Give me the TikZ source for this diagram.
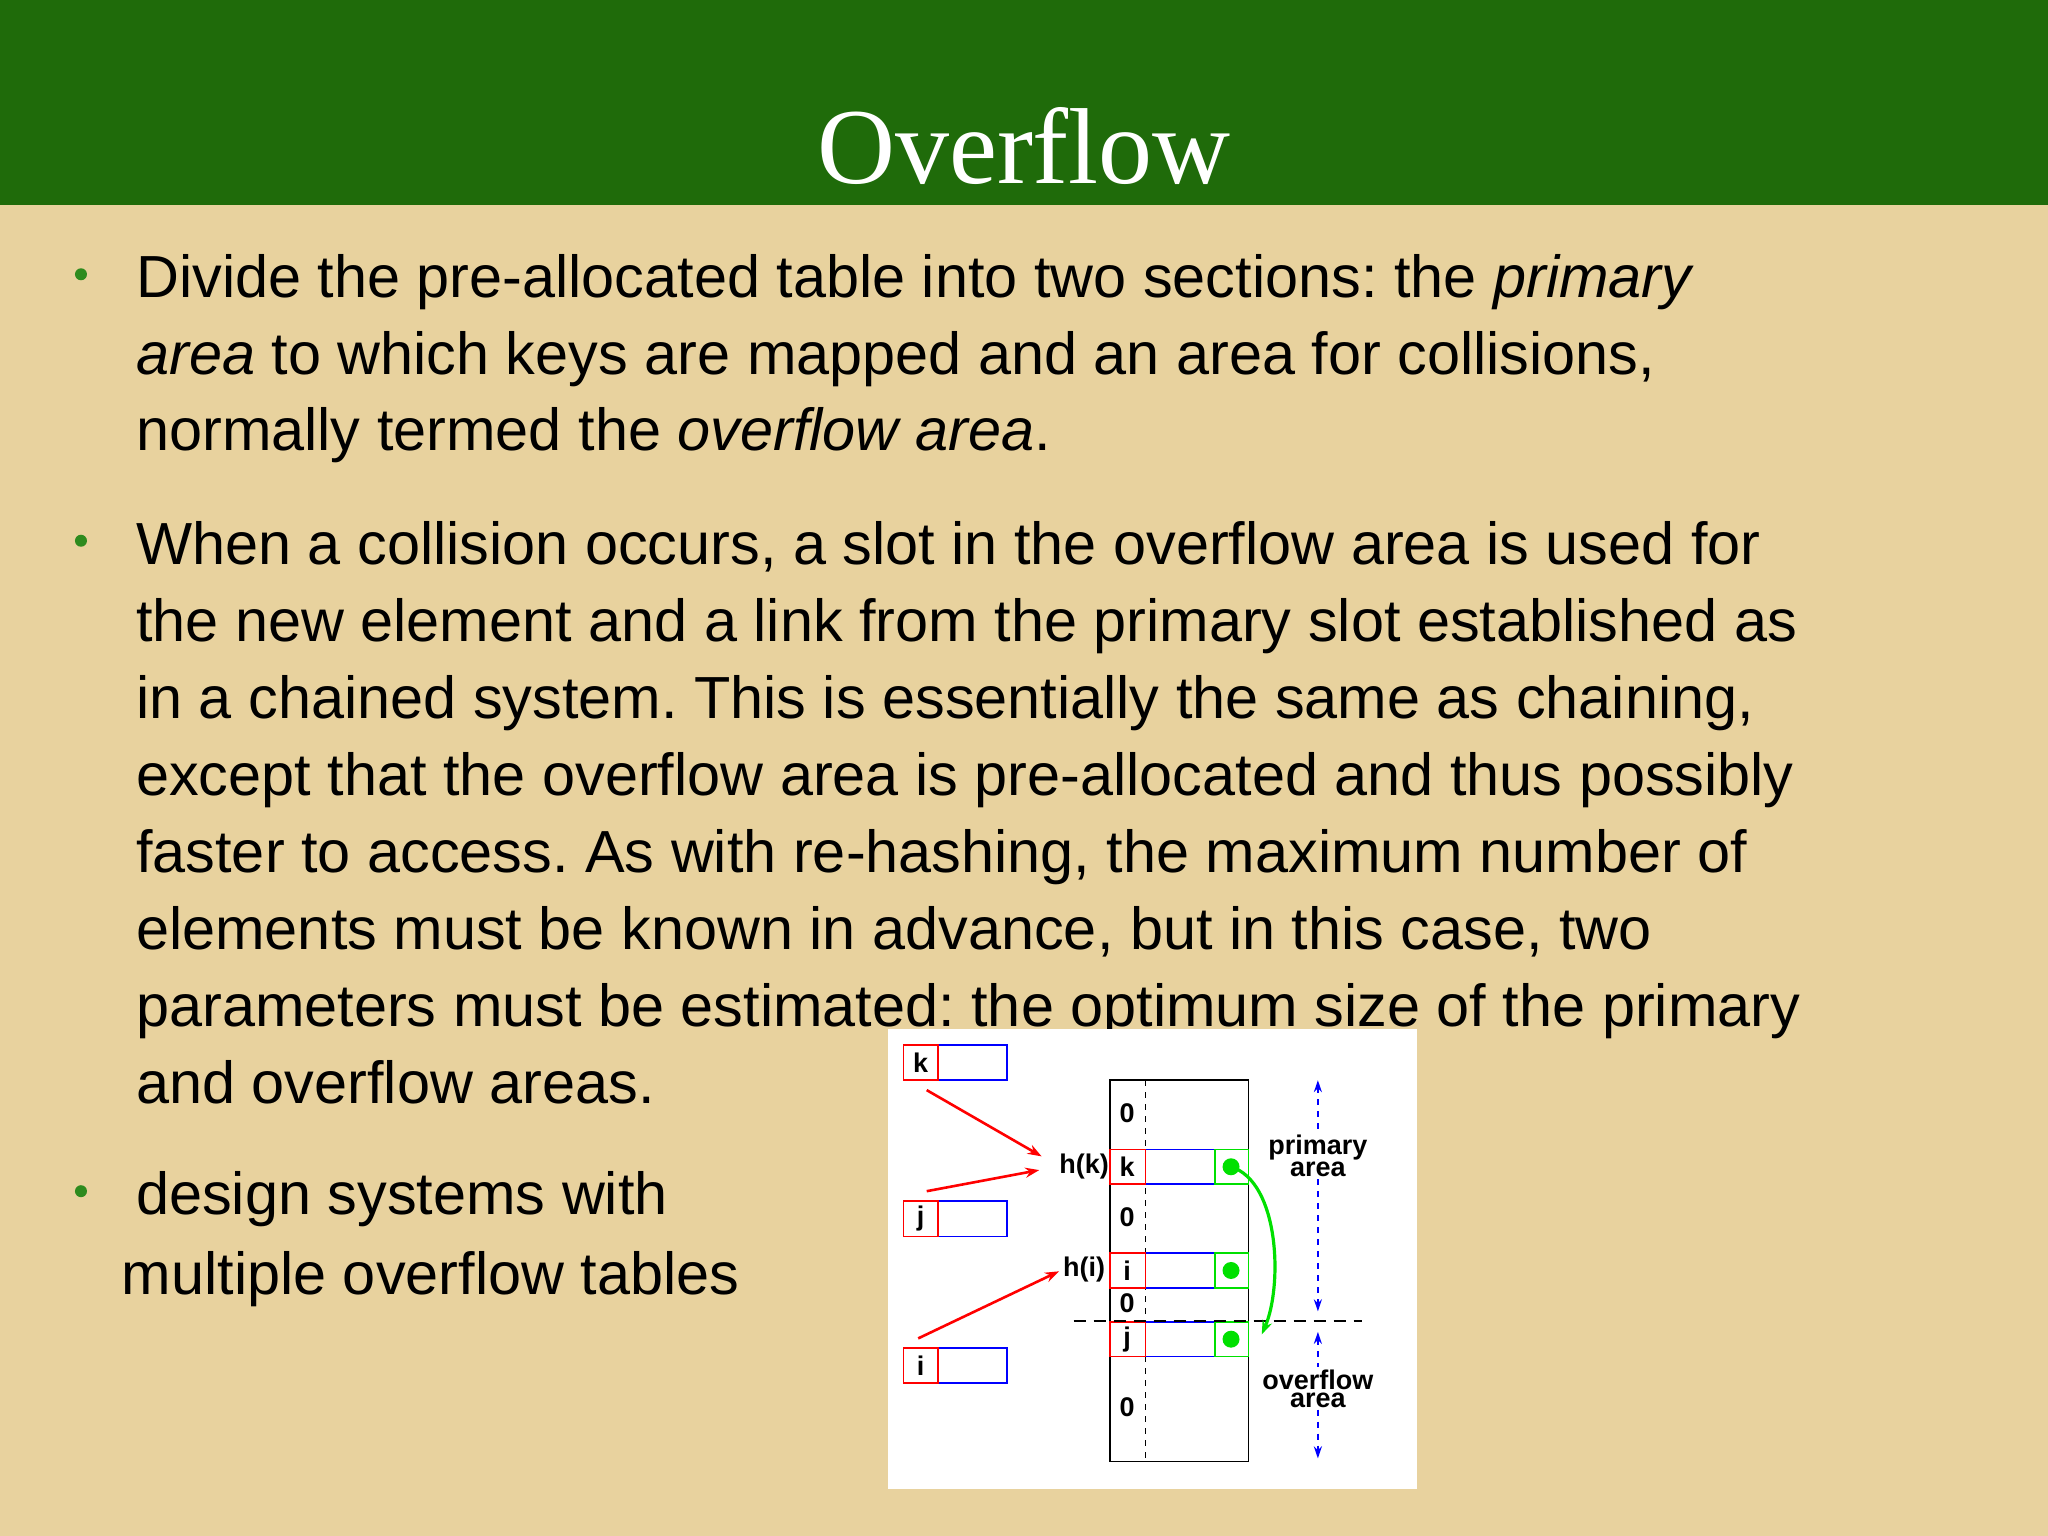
\documentclass[tikz,border=0pt]{standalone}
\usepackage{fontspec}
\setmainfont{Liberation Sans}
\newfontfamily\titlefont{Liberation Serif}
\usetikzlibrary{arrows.meta}
\definecolor{bg}{HTML}{E8D29E}
\definecolor{banner}{HTML}{1F6B0A}
\definecolor{bul}{HTML}{2E8B1E}
\definecolor{gr}{HTML}{00E000}
\frenchspacing
\tikzset{
 body/.style={anchor=base west,inner sep=0pt,font=\fontsize{29.7}{32}\selectfont},
 dot/.style={circle,fill=bul,inner sep=0pt,minimum size=6pt},
 dl/.style={inner sep=0pt,font=\bfseries\fontsize{13.5}{13}\selectfont},
 redb/.style={draw=red,line width=0.8pt},
 blueb/.style={draw=blue,line width=0.8pt},
 greenb/.style={draw=gr,line width=0.8pt},
 redarrow/.style={red,line width=1.3pt,-{Stealth[length=7pt,width=5pt]}},
}
\begin{document}
\begin{tikzpicture}[x=0.653pt,y=-0.653pt]
\useasboundingbox (0,0) rectangle (1568,1176);
\fill[bg] (0,0) rectangle (1568,1176);
\fill[banner] (0,0) rectangle (1568,157);
\node[white,font=\titlefont\fontsize{54}{56}\selectfont] (title) at (784,112) {Overflow};
% bullets
\node[dot] (b1) at (62,210) {};
\node[dot] (b2) at (62,414) {};
\node[dot] (b3) at (62,912) {};
\node[body] (l1) at (104,228) {Divide the pre-allocated table into two sections: the \emph{primary}};
\node[body] (l2) at (104,287) {\emph{area} to which keys are mapped and an area for collisions,};
\node[body] (l3) at (104,345) {normally termed the \emph{overflow area}.};
\node[body] (m1) at (104,432) {When a collision occurs, a slot in the overflow area is used for};
\node[body] (m2) at (104,491) {the new element and a link from the primary slot established as};
\node[body] (m3) at (104,550) {in a chained system. This is essentially the same as chaining,};
\node[body] (m4) at (104,609) {except that the overflow area is pre-allocated and thus possibly};
\node[body] (m5) at (104,668) {faster to access. As with re-hashing, the maximum number of};
\node[body] (m6) at (104,727) {elements must be known in advance, but in this case, two};
\node[body] (m7) at (104,786) {parameters must be estimated: the optimum size of the primary};
\node[body] (m8) at (104,845) {and overflow areas.};
\node[body] (n1) at (104,930) {design systems with};
\node[body] (n2) at (93,991) {multiple overflow tables};
% diagram
\fill[white] (680,788) rectangle (1085,1140);
% key boxes
\foreach \nm/\y in {k/800,j/919.6,i/1032}{
  \draw[blueb] (718,\y) rectangle (771,\y+27);
  \draw[redb] (691.6,\y) rectangle (718,\y+27);
  \node[dl] (key\nm) at (704.8,\y+13.5) {\nm};
}
% table
\draw[line width=0.8pt] (850,827) rectangle (956,1119);
\draw[dashed,line width=0.8pt] (877,827) -- (877,1119);
\foreach \nm/\y in {k/880,i/959.4,j/1012}{
  \fill[white] (850,\y) rectangle (956,\y+26.6);
  \draw[blueb] (877,\y) rectangle (930,\y+26.6);
  \draw[greenb] (930,\y) rectangle (956,\y+26.6);
  \draw[redb] (850,\y) rectangle (877,\y+26.6);
  \node[dl] (row\nm) at (863,\y+13.3) {\nm};
  \fill[gr] (942.5,\y+13.3) circle (6.5);
  \coordinate (dot\nm) at (942.5,\y+13.3);
}
\node[dl] (z1) at (863,852) {0};
\node[dl] (z2) at (863,932) {0};
\node[dl] (z3) at (863,998) {0};
\node[dl] (z4) at (863,1077) {0};
\node[dl] (hk) at (830,893) {h(k)};
\node[dl] (hi) at (830,972) {h(i)};
% red arrows
\coordinate (ak) at (709.5,834.6);
\coordinate (aj) at (709.5,912);
\coordinate (ai) at (703,1024.7);
\draw[redarrow,shorten >=10pt] (ak) -- (hk.west);
\draw[redarrow,shorten >=10pt] (aj) -- (hk.west);
\draw[redarrow,shorten >=2pt] (ai) -- (hi.west);
% separator
\coordinate (sl) at (822,1011.5);
\coordinate (sr) at (1043,1011.5);
\draw[line width=1pt,dash pattern=on 6pt off 4pt] (sl) -- (sr);
% green link
\coordinate (gend) at (966,1021.7);
\draw[gr,line width=1.6pt,-{Stealth[length=7pt,width=5pt]}] (dotk) .. controls (980,905) and (982,985) .. (gend);
% blue dimension arrows
\coordinate (pt) at (1009,827);
\coordinate (pb) at (1009,1004);
\coordinate (ot) at (1009,1019.7);
\coordinate (ob) at (1009,1116.6);
\node[dl,align=center,font=\bfseries\fontsize{13.5}{9}\selectfont,fill=white,inner sep=1pt] (prim) at (1009,885) {primary\\area};
\node[dl,align=center,font=\bfseries\fontsize{13.5}{9}\selectfont,fill=white,inner sep=1pt] (ovf) at (1009,1063) {overflow\\area};
\draw[blue,dashed,line width=1.2pt,{Stealth[length=6pt,width=4pt]}-] (pt) -- (prim.north);
\draw[blue,dashed,line width=1.2pt,-{Stealth[length=6pt,width=4pt]}] (prim.south) -- (pb);
\draw[blue,dashed,line width=1.2pt,{Stealth[length=6pt,width=4pt]}-] (ot) -- (ovf.north);
\draw[blue,dashed,line width=1.2pt,-{Stealth[length=6pt,width=4pt]}] (ovf.south) -- (ob);
\end{tikzpicture}
\end{document}
